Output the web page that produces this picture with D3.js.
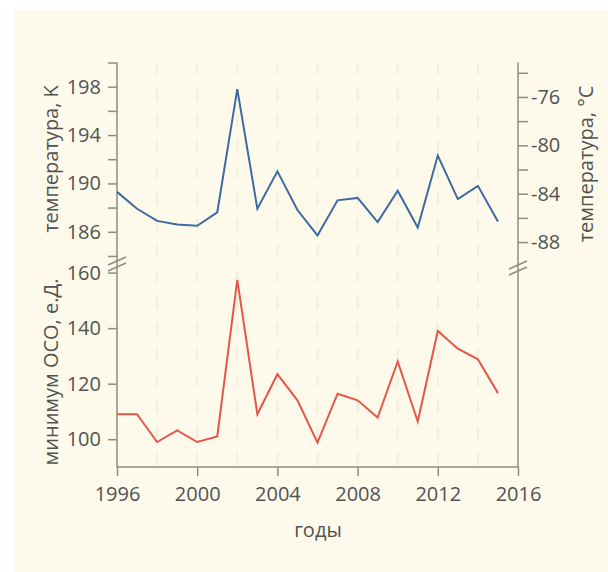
<!DOCTYPE html>
<html>
<head>
<meta charset="utf-8">
<script src="https://cdn.jsdelivr.net/npm/d3@7"></script>
<style>
  body { margin: 0; background: #ffffff; }
  svg { display: block; }
</style>
</head>
<body>
<div id="chart"></div>
<script>
// data
var years = [1996, 1997, 1998, 1999, 2000, 2001, 2002, 2003, 2004, 2005,
             2006, 2007, 2008, 2009, 2010, 2011, 2012, 2013, 2014, 2015]
var tempK = [189.3, 187.9, 186.9, 186.6, 186.5, 187.6, 197.8, 187.9, 191.0, 187.8,
             185.7, 188.6, 188.8, 186.8, 189.4, 186.35, 192.3, 188.7, 189.8, 186.85]
var ozoneMin = [109, 109, 99, 103.2, 99, 101, 157.4, 109, 123.4, 114,
                98.8, 116.4, 114, 107.8, 128, 106.4, 139, 132.6, 128.8, 116.6]

var yearTicks = [1996, 2000, 2004, 2008, 2012, 2016]
var gridYears = [1998, 2000, 2002, 2004, 2006, 2008, 2010, 2012, 2014]
var kTicks = [184, 186, 188, 190, 192, 194, 196, 198, 200]
var kLabels = [186, 190, 194, 198]
var cTicks = [-88, -86, -84, -82, -80, -78, -76, -74]
var cLabels = [-88, -84, -80, -76]
var ozoneTicks = [100, 120, 140, 160]

var kelvin0 = 273.15
var width = 608, height = 572
var textColor = "#525252"
var axisColor = "#8d8c84"
var fontFamily = "'Open Sans', 'Noto Sans', sans-serif"
var fontSize = "20px"

var svg = d3.select("#chart").append("svg")
            .attr("width", width)
            .attr("height", height)

svg.append("rect")
   .attr("x", 14).attr("y", 10)
   .attr("width", width - 14).attr("height", height - 10)
   .attr("fill", "#fdfaeb")

var x = d3.scaleLinear().domain([1996, 2016]).range([117, 518])
var yK = d3.scaleLinear().domain([183.5, 200]).range([262, 62.5])
var yC = d3.scaleLinear().domain([183.5 - kelvin0, 200 - kelvin0]).range([262, 62.5])
var yO = d3.scaleLinear().domain([90, 163.6]).range([467, 262.6])

// very faint dashed vertical grid
svg.append("g")
   .selectAll("line")
   .data(gridYears)
   .join("line")
   .attr("x1", d => x(d)).attr("x2", d => x(d))
   .attr("y1", yK(200)).attr("y2", yO(90))
   .attr("stroke", "#f2eedd")
   .attr("stroke-width", 2)
   .attr("stroke-dasharray", "12,14")

function styleAxis(g) {
  g.select(".domain").remove()
  g.selectAll(".tick line").attr("stroke", axisColor).attr("stroke-width", 1.5)
  g.selectAll(".tick text")
   .attr("fill", textColor)
   .attr("font-family", fontFamily)
   .attr("font-size", fontSize)
}

// left axis: kelvin (top) and ozone (bottom)
svg.append("g")
   .attr("transform", "translate(" + x(1996) + ",0)")
   .call(d3.axisLeft(yK).tickValues(kTicks).tickSize(9).tickPadding(7)
           .tickFormat(d => kLabels.indexOf(d) >= 0 ? d : ""))
   .call(styleAxis)

svg.append("g")
   .attr("transform", "translate(" + x(1996) + ",0)")
   .call(d3.axisLeft(yO).tickValues(ozoneTicks).tickSize(9).tickPadding(7))
   .call(styleAxis)

// right axis: celsius
svg.append("g")
   .attr("transform", "translate(" + x(2016) + ",0)")
   .call(d3.axisRight(yC).tickValues(cTicks).tickSize(10).tickPadding(3)
           .tickFormat(d => cLabels.indexOf(d) >= 0 ? String(d) : ""))
   .call(styleAxis)

// bottom axis
svg.append("g")
   .attr("transform", "translate(0," + yO(90) + ")")
   .call(d3.axisBottom(x).tickValues(yearTicks).tickSize(9).tickPadding(11)
           .tickFormat(d3.format("d")))
   .call(styleAxis)

// axis lines drawn separately so they run through the breaks
svg.append("line")
   .attr("x1", x(1996)).attr("x2", x(1996))
   .attr("y1", yK(200)).attr("y2", yO(90))
   .attr("stroke", axisColor).attr("stroke-width", 1.5)
svg.append("line")
   .attr("x1", x(2016)).attr("x2", x(2016))
   .attr("y1", yK(200)).attr("y2", yO(90))
   .attr("stroke", axisColor).attr("stroke-width", 1.5)
svg.append("line")
   .attr("x1", x(1996)).attr("x2", x(2016))
   .attr("y1", yO(90)).attr("y2", yO(90))
   .attr("stroke", axisColor).attr("stroke-width", 1.5)

// break marks "//"
function breakMark(cx, cy) {
  [-3, 3].forEach(function(off) {
    svg.append("line")
       .attr("x1", cx - 9).attr("y1", cy + off + 4)
       .attr("x2", cx + 9).attr("y2", cy + off - 4)
       .attr("stroke", axisColor).attr("stroke-width", 1.5)
  })
}
breakMark(x(1996), 264)
breakMark(x(2016), 268)

// lines
var lineK = d3.line().x((d, i) => x(years[i])).y(d => yK(d))
var lineO = d3.line().x((d, i) => x(years[i])).y(d => yO(d))

svg.append("path")
   .datum(tempK)
   .attr("d", lineK)
   .attr("fill", "none")
   .attr("stroke", "#3d6a9f")
   .attr("stroke-width", 2)

svg.append("path")
   .datum(ozoneMin)
   .attr("d", lineO)
   .attr("fill", "none")
   .attr("stroke", "#e4564a")
   .attr("stroke-width", 2)

// axis titles
function rotTitle(tx, ty, label) {
  svg.append("text")
     .attr("transform", "translate(" + tx + "," + ty + ") rotate(-90)")
     .attr("text-anchor", "middle")
     .attr("dominant-baseline", "central")
     .attr("font-family", fontFamily)
     .attr("font-size", fontSize)
     .attr("fill", textColor)
     .text(label)
}
rotTitle(50, 159, "температура, K")
rotTitle(50, 372, "минимум ОСО, е.Д.")
rotTitle(585, 164, "температура, °C")

svg.append("text")
   .attr("x", 318).attr("y", 537)
   .attr("text-anchor", "middle")
   .attr("font-family", fontFamily)
   .attr("font-size", fontSize)
   .attr("fill", textColor)
   .text("годы")
</script>
</body>
</html>
